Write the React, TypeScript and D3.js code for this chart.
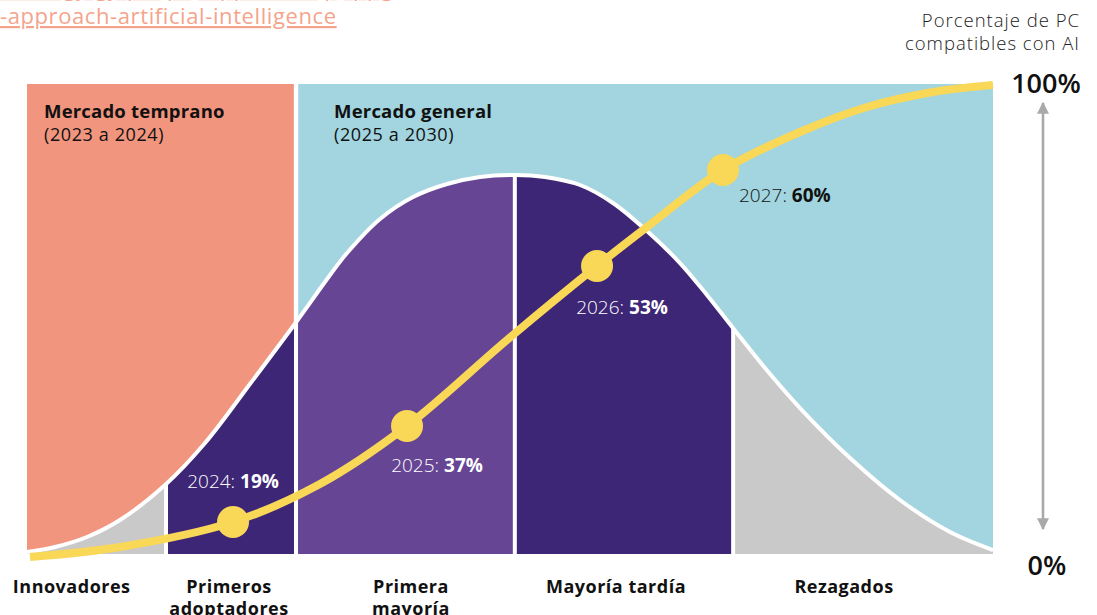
import React from "react";
import * as d3 from "d3";

// ---------- data ----------
const segmentNames = [["Innovadores"], ["Primeros", "adoptadores"], ["Primera", "mayoría"], ["Mayoría tardía"], ["Rezagados"]];
const segmentBounds = [0, 14.4, 27.85, 50.5, 73.1, 100];

const marketNames = ["Mercado temprano", "Mercado general"];
const marketPeriods = ["(2023 a 2024)", "(2025 a 2030)"];
const marketBounds = [0, 27.85, 100];

// bell curve (share of buyers), x along diagram 0..100, y 0..100
const bellX = [0, 2.9, 6.21, 9.63, 14.29, 18.43, 23.08, 27.64, 31.37, 33.13, 36.54, 39.96, 43.48, 46.89, 50.52, 53.62, 57.25, 60.66, 64.18, 67.6, 70.39, 73.08, 76.4, 80.02, 85.2, 90.37, 95.55, 100];
const bellY = [0.43, 1.49, 3.62, 7.23, 14.68, 23.62, 36.17, 48.72, 59.36, 64.04, 71.28, 75.96, 78.72, 80.21, 80.64, 80.21, 78.51, 74.68, 68.72, 61.91, 55.11, 48.09, 39.57, 31.06, 20.43, 11.49, 4.68, 0.85];

// adoption S-curve
const adoptX = [0.31, 9.63, 21.33, 30.33, 39.34, 49.69, 59.01, 64.18, 72.05, 80.02, 86.96, 93.79, 100];
const adoptY = [-0.64, 1.49, 6.81, 14.89, 27.23, 45.53, 61.28, 69.57, 81.7, 89.79, 95.11, 98.3, 99.79];

const milestoneYears = ["2024", "2025", "2026", "2027"];
const milestoneShares = ["19%", "37%", "53%", "60%"];
const milestoneX = [21.33, 39.34, 59.01, 72.05];
const milestoneY = [6.81, 27.23, 61.28, 81.7];

const axisTicks = ["0%", "100%"];
const axisTitle = ["Porcentaje de PC", "compatibles con AI"];
const sourceLines = ["strategy-gy-pc-(pc)-approach-(p)-ppg", "-approach-artificial-intelligence"];

// ---------- style / layout ----------
const FONT = "'Open Sans', 'DejaVu Sans', sans-serif";
const SALMON = "#F2957E";
const BLUE = "#A2D5DF";
const GRAY = "#C9C9C9";
const DARK = "#3D2676";
const MID = "#664694";
const YELLOW = "#F9D757";
const segmentColors = [GRAY, DARK, MID, DARK, GRAY];
const marketColors = [SALMON, BLUE];
const labelColors = ["#fff", "#fff", "#fff", "#111"];
const labelOffsets: [number, number, string][] = [
  [0, -34, "middle"],
  [30, 46, "middle"],
  [25, 48, "middle"],
  [16, 32, "start"],
];
const segLabelCenters = [71.7, 229, 411, 616, 844];

export default function App() {
  const W = 1097, H = 615;
  const xs = d3.scaleLinear().domain([0, 100]).range([27, 993]);
  const ys = d3.scaleLinear().domain([0, 100]).range([554, 84]);

  const bellPts: [number, number][] = bellX.map((x, i) => [x, bellY[i]]);
  const adoptPts: [number, number][] = adoptX.map((x, i) => [x, adoptY[i]]);

  const curve = d3.curveCatmullRom.alpha(0.5);
  const area = d3
    .area<[number, number]>()
    .x((d) => xs(d[0]))
    .y0(ys(0))
    .y1((d) => ys(d[1]))
    .curve(curve);
  const line = d3
    .line<[number, number]>()
    .x((d) => xs(d[0]))
    .y((d) => ys(d[1]))
    .curve(curve);

  const bellArea = area(bellPts) || "";
  const bellLine = line(bellPts) || "";
  const adoptLine = line(adoptPts) || "";

  const gap = 2.2;
  const segGap = 2;

  return (
    <svg
      width={W}
      height={H}
      viewBox={`0 0 ${W} ${H}`}
      style={{ position: "absolute", left: 0, top: 0, background: "#fff" }}
      fontFamily={FONT}
    >
      <defs>
        {segmentNames.map((_, i) => {
          const x0 = xs(segmentBounds[i]) + (i === 0 ? -5 : segGap);
          const x1 = xs(segmentBounds[i + 1]) - (i === segmentNames.length - 1 ? -5 : segGap);
          return (
            <clipPath id={`seg${i}`} key={i}>
              <rect x={x0} y={0} width={x1 - x0} height={H} />
            </clipPath>
          );
        })}
        <marker id="arrow" viewBox="0 0 10 10" refX="9" refY="5" markerWidth="4.6" markerHeight="4.6" orient="auto-start-reverse" markerUnits="strokeWidth">
          <path d="M0,0 L10,5 L0,10 z" fill="#A9A9A9" />
        </marker>
      </defs>

      {/* source link */}
      {sourceLines.map((t, i) => (
        <text key={i} x={0} y={-4 + i * 28} fontSize={22} letterSpacing={0.6} fill="#F5A48C" textDecoration="underline" fontWeight={400}>
          {t}
        </text>
      ))}

      {/* market backgrounds */}
      {marketNames.map((_, i) => {
        const x0 = xs(marketBounds[i]) + (i === 0 ? 0 : gap);
        const x1 = xs(marketBounds[i + 1]) - (i === marketNames.length - 1 ? 0 : gap);
        return <rect key={i} x={x0} y={ys(100)} width={x1 - x0} height={ys(0) - ys(100)} fill={marketColors[i]} />;
      })}

      {/* bell curve segments */}
      <path d={bellArea} fill="#fff" />
      {segmentNames.map((_, i) => (
        <path key={i} d={bellArea} fill={segmentColors[i]} clipPath={`url(#seg${i})`} />
      ))}
      <path d={bellLine} fill="none" stroke="#fff" strokeWidth={4} />

      {/* market titles */}
      {marketNames.map((n, i) => (
        <g key={i} transform={`translate(${xs(marketBounds[i]) + (i === 0 ? 17 : 38)},0)`}>
          <text y={118} fontSize={18.5} letterSpacing={0.2} fontWeight={700} fill="#111">
            {n}
          </text>
          <text y={141} fontSize={18} letterSpacing={0.6} fontWeight={400} fill="#111">
            {marketPeriods[i]}
          </text>
        </g>
      ))}

      {/* adoption curve */}
      <path d={adoptLine} fill="none" stroke={YELLOW} strokeWidth={8} />
      {milestoneX.map((x, i) => (
        <circle key={i} cx={xs(x)} cy={ys(milestoneY[i])} r={16} fill={YELLOW} />
      ))}
      {milestoneX.map((x, i) => {
        const [dx, dy, anchor] = labelOffsets[i];
        return (
          <text
            key={i}
            x={xs(x) + dx}
            y={ys(milestoneY[i]) + dy}
            fontSize={19}
            fill={labelColors[i]}
            textAnchor={anchor}
          >
            <tspan fontWeight={300}>{milestoneYears[i]}: </tspan>
            <tspan fontWeight={700}>{milestoneShares[i]}</tspan>
          </text>
        );
      })}

      {/* segment labels */}
      {segmentNames.map((lines, i) => {
        const cx = segLabelCenters[i];
        return (
          <text key={i} x={cx} y={593} fontSize={18} letterSpacing={0.5} fontWeight={700} fill="#111" textAnchor="middle">
            {lines.map((l, j) => (
              <tspan key={j} x={cx} dy={j === 0 ? 0 : 22}>
                {l}
              </tspan>
            ))}
          </text>
        );
      })}

      {/* vertical axis */}
      <line x1={1043} x2={1043} y1={103} y2={529} stroke="#A9A9A9" strokeWidth={2.6} markerStart="url(#arrow)" markerEnd="url(#arrow)" />
      <text x={1046} y={93} fontSize={27} fontWeight={600} fill="#111" textAnchor="middle">
        {axisTicks[1]}
      </text>
      <text x={1047} y={575} fontSize={27} fontWeight={600} fill="#111" textAnchor="middle">
        {axisTicks[0]}
      </text>
      {axisTitle.map((t, i) => (
        <text key={i} x={1080} y={27 + i * 23} fontSize={18.5} letterSpacing={1} fontWeight={300} fill="#222" textAnchor="end">
          {t}
        </text>
      ))}
    </svg>
  );
}
